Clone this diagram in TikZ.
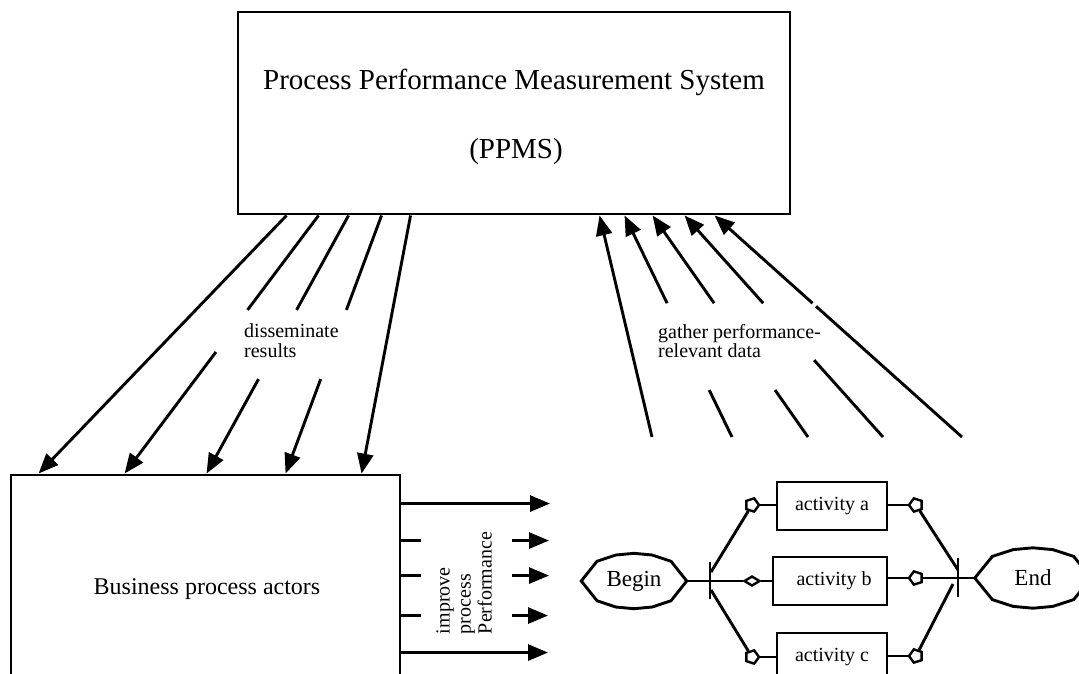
\documentclass[tikz,border=0pt]{standalone}
\usepackage{fontspec}
\setmainfont{Liberation Serif}
\usetikzlibrary{arrows.meta,calc,shapes.geometric}
\begin{document}
\begin{tikzpicture}[x=1pt,y=-1pt,
  ln/.style={line width=2.9pt},
  arr/.style={line width=2.9pt,-{Triangle[length=20pt,width=16pt]}},
  box/.style={draw,line width=2.9pt,inner sep=0pt},
  txt/.style={inner sep=0pt,font=\fontsize{#1}{#1}\selectfont},
  lbl/.style={inner sep=0pt,align=left,font=\fontsize{20}{20}\selectfont},
  act/.style={box,minimum width=110pt,minimum height=48pt,font=\fontsize{20}{20}\selectfont},
  term/.style={ellipse,inner sep=0pt,font=\fontsize{23}{23}\selectfont},
  mk/.style={draw,fill=white,line width=2.4pt,inner sep=0pt},
  pent/.style={mk,regular polygon,regular polygon sides=5,minimum size=14pt},
]
\useasboundingbox (0,0) rectangle (1079,673);
\clip (0,0) rectangle (1079,673);

% PPMS box
\node[box,minimum width=552pt,minimum height=202pt] (ppms) at (514,113) {};
\node[txt=29,anchor=base] (ppmst1) at (514,89) {Process Performance Measurement System};
\node[txt=29,anchor=base] (ppmst2) at (516,158) {(PPMS)};

% Business process actors box
\node[box,minimum width=389pt,minimum height=220pt] (bpa) at (205.5,585) {};
\node[txt=24,anchor=base] (bpat) at (207,594) {Business process actors};

% disseminate arrows
\coordinate (d1s) at ($(ppms.south west)+(50,0)$);
\coordinate (d2s) at ($(ppms.south west)+(82,0)$);
\coordinate (d3s) at ($(ppms.south west)+(112,0)$);
\coordinate (d4s) at ($(ppms.south west)+(145,0)$);
\coordinate (d5s) at ($(ppms.south west)+(174,0)$);
\coordinate (d1e) at ($(bpa.north west)+(29,0)$);
\coordinate (d2e) at ($(bpa.north west)+(115,0)$);
\coordinate (d3e) at ($(bpa.north west)+(197,0)$);
\coordinate (d4e) at ($(bpa.north west)+(276,0)$);
\coordinate (d5e) at ($(bpa.north west)+(352,0)$);
\draw[arr] (d1s) -- (d1e);
\draw[arr] (d2s) -- ($(d2s)!0.366!(d2e)$) ($(d2s)!0.529!(d2e)$) -- (d2e);
\draw[arr] (d3s) -- ($(d3s)!0.366!(d3e)$) ($(d3s)!0.634!(d3e)$) -- (d3e);
\draw[arr] (d4s) -- ($(d4s)!0.366!(d4e)$) ($(d4s)!0.634!(d4e)$) -- (d4e);
\draw[arr] (d5s) -- (d5e);
\node[lbl,anchor=base west,font=\fontsize{20}{20}\selectfont] (dis) at (244,357) {disseminate\\results};

% gather arrows
\coordinate (g1s) at (652,437);
\coordinate (g2s) at (732,437);
\coordinate (g3s) at (808,437);
\coordinate (g4s) at (883,437);
\coordinate (g5s) at (962,437);
\coordinate (g1e) at ($(ppms.south west)+(363,0)$);
\coordinate (g2e) at ($(ppms.south west)+(388,0)$);
\coordinate (g3e) at ($(ppms.south west)+(416,0)$);
\coordinate (g4e) at ($(ppms.south west)+(448,0)$);
\coordinate (g5e) at ($(ppms.south west)+(478,0)$);
\draw[arr] (g1s) -- (g1e);
\draw[arr] (g2s) -- ($(g2s)!0.212!(g2e)$) ($(g2s)!0.604!(g2e)$) -- (g2e);
\draw[arr] (g3s) -- ($(g3s)!0.212!(g3e)$) ($(g3s)!0.604!(g3e)$) -- (g3e);
\draw[arr] (g4s) -- ($(g4s)!0.347!(g4e)$) ($(g4s)!0.604!(g4e)$) -- (g4e);
\draw[arr] (g5s) -- ($(g5s)!0.59!(g5e)$) ($(g5s)!0.604!(g5e)$) -- (g5e);
\node[lbl,anchor=base west,font=\fontsize{20}{19}\selectfont] (gat) at (658,357) {gather performance-\\relevant data};

% improve arrows
\coordinate (i1s) at ($(bpa.north east)+(0,30)$);
\coordinate (i2s) at ($(bpa.north east)+(0,67)$);
\coordinate (i3s) at ($(bpa.north east)+(0,102)$);
\coordinate (i4s) at ($(bpa.north east)+(0,142)$);
\coordinate (i5s) at ($(bpa.north east)+(0,179)$);
\coordinate (i1e) at (550,0 |- i1s);
\coordinate (i2e) at (549,0 |- i2s);
\coordinate (i3e) at (549,0 |- i3s);
\coordinate (i4e) at (548,0 |- i4s);
\coordinate (i5e) at (548,0 |- i5s);
\draw[arr] (i1s) -- (i1e);
\draw[arr] (i2s) -- ++(20,0) (512,0 |- i2s) -- (i2e);
\draw[arr] (i3s) -- ++(20,0) (512,0 |- i3s) -- (i3e);
\draw[arr] (i4s) -- ++(20,0) (512,0 |- i4s) -- (i4e);
\draw[arr] (i5s) -- (i5e);
\node[lbl,rotate=90,font=\fontsize{20}{21}\selectfont] (imp) at (464,583) {improve\\process\\Performance};

% process model
\node[term,minimum width=105pt,minimum height=55pt] (beg) at (634,581) {Begin};
\node[term,minimum width=116pt,minimum height=60pt] (endn) at (1033,578) {End};
\draw[ln] (beg.0) -- (beg.28) -- (beg.55) -- (beg.90) -- (beg.125) -- (beg.152) -- (beg.180) -- (beg.208) -- (beg.235) -- (beg.270) -- (beg.305) -- (beg.332) -- cycle;
\draw[ln] (endn.0) -- (endn.28) -- (endn.55) -- (endn.90) -- (endn.125) -- (endn.152) -- (endn.180) -- (endn.208) -- (endn.235) -- (endn.270) -- (endn.305) -- (endn.332) -- cycle;

\node[act] (acta) at (832,506) {activity a};
\node[act,minimum width=114pt] (actb) at (830,581) {\hspace*{8pt}activity b};
\node[act] (actc) at (832,657) {activity c};

\coordinate (sp) at (710,581);
\coordinate (jn) at (958,578);
\draw[ln] ($(sp)+(0,-19)$) -- ($(sp)+(0,18)$);
\draw[ln] ($(jn)+(0,-20)$) -- ($(jn)+(0,19)$);

\node[pent,shape border rotate=-90] (A1) at (752,505) {};
\node[mk,diamond,minimum width=16pt,minimum height=10pt] (B1) at (752,581) {};
\node[pent,shape border rotate=-90] (C1) at (752,657) {};
\node[pent,shape border rotate=90] (A2) at (916,505) {};
\node[pent,shape border rotate=90] (B2) at (916,578) {};
\node[pent,shape border rotate=90] (C2) at (916,656) {};

\draw[ln] (beg.east) -- (sp) -- (B1) -- (B1 -| actb.west);
\draw[ln] ($(sp)+(1,-9)$) -- (A1);
\draw[ln] (A1) -- (A1 -| acta.west);
\draw[ln] ($(sp)+(1,9)$) -- (C1);
\draw[ln] (C1) -- (C1 -| actc.west);
\draw[ln] (acta.east |- A2) -- (A2);
\draw[ln] (A2) -- ($(jn)+(0,-8)$);
\draw[ln] (actb.east |- B2) -- (B2);
\draw[ln] (B2) -- (jn) -- (endn.west);
\draw[ln] (actc.east |- C2) -- (C2);
\draw[ln] (C2) -- ($(jn)+(-5,6)$);
\end{tikzpicture}
\end{document}
